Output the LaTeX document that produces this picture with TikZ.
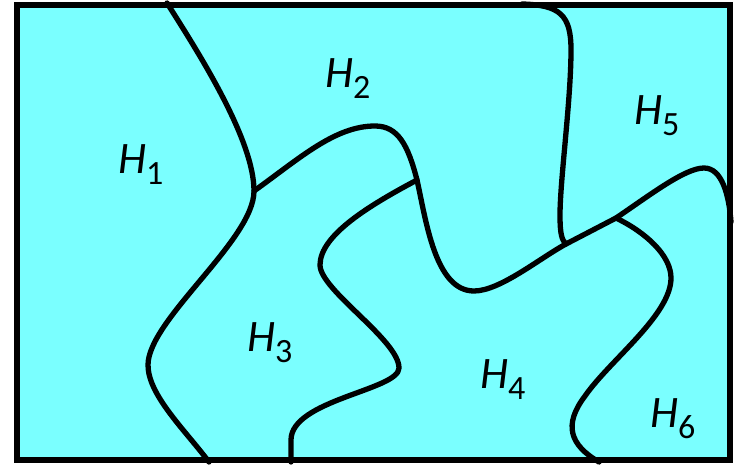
\documentclass[tikz,border=0pt]{standalone}
\usepackage{fontspec}
\setmainfont{Carlito}
\definecolor{regfill}{RGB}{122,255,255}
\newcommand\hlab[1]{{\itshape H}\raisebox{-11.5pt}{\fontsize{34}{36}\selectfont #1}}
\begin{document}
\begin{tikzpicture}[x=1pt,y=-1pt,
  bnd/.style={line width=5.3pt,line cap=round,line join=round},
  lab/.style={anchor=base west,inner sep=0pt,font=\fontsize{45}{50}\selectfont}]
\useasboundingbox (0,0) rectangle (738,466);
\fill[regfill] (17,5) rectangle (730,460);
\coordinate (j1) at (254,191);
\coordinate (j2) at (417,180);
\coordinate (j3) at (566,244);
\coordinate (j4) at (616,218);
% curve A
\draw[bnd] (167,3) .. controls (200,55) and (254,140) .. (j1)
  .. controls (254,240) and (148,320) .. (148,365)
  .. controls (148,395) and (185,430) .. (209,462);
% curve B
\draw[bnd] (j1) .. controls (300,158) and (335,126) .. (375,126)
  .. controls (398,126) and (408,145) .. (j2)
  .. controls (426,220) and (435,291) .. (474,291)
  .. controls (500,291) and (540,258) .. (j3)
  -- (j4)
  .. controls (650,195) and (685,168) .. (704,168)
  .. controls (722,168) and (729,195) .. (731,222);
% curve C
\draw[bnd] (522,4) .. controls (560,5) and (571,15) .. (571,50)
  .. controls (571,100) and (560,180) .. (560,215)
  .. controls (560,235) and (562,240) .. (j3);
% curve D
\draw[bnd] (j4) .. controls (645,232) and (671,255) .. (671,278)
  .. controls (671,315) and (610,360) .. (585,396)
  .. controls (563,425) and (570,445) .. (599,462);
% curve E
\draw[bnd] (j2) .. controls (370,205) and (320,235) .. (320,265)
  .. controls (320,290) and (399,340) .. (399,368)
  .. controls (399,390) and (291,400) .. (291,440)
  -- (291,462);
\draw[line width=6.8pt] (17,5) rectangle (730,460);
\node[lab] (h1) at (118,173) {\hlab{1}};
\node[lab] (h2) at (325,87) {\hlab{2}};
\node[lab] (h5) at (634,124) {\hlab{5}};
\node[lab] (h3) at (247,351) {\hlab{3}};
\node[lab] (h4) at (480,388) {\hlab{4}};
\node[lab] (h6) at (650,427) {\hlab{6}};
\end{tikzpicture}
\end{document}
